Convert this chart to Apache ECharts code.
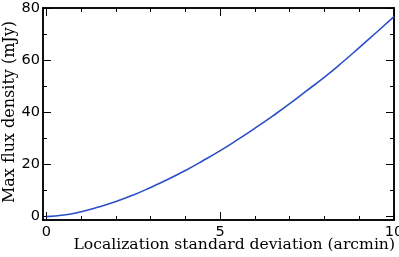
<!DOCTYPE html>
<html><head><meta charset="utf-8">
<script src="https://cdn.jsdelivr.net/npm/echarts@6/dist/echarts.min.js"></script>
<style>html,body{margin:0;padding:0;background:#fff}#c{width:399px;height:257px}</style>
</head><body><div id="c"></div>
<script>
const xValues = [0,0.5,1,1.5,2,2.5,3,3.5,4,4.5,5,5.5,6,6.5,7,7.5,8,8.5,9,9.5,10];
const yValues = [0,0.6,1.9,3.7,5.8,8.3,11.2,14.3,17.7,21.4,25.3,29.5,33.9,38.5,43.3,48.4,53.5,59.0,64.8,70.7,76.7];
const xMajorTicks = [0,5,10];
const xMinorTicks = [1,2,3,4,6,7,8,9];
const yMajorTicks = [0,20,40,60,80];
const yMinorTicks = [10,30,50,70];
const xTitle = 'Localization standard deviation (arcmin)';
const yTitle = 'Max flux density (mJy)';

const X_MIN = -0.1, X_MAX = 10, Y_MIN = -1.3, Y_MAX = 80;
const black = '#000';
const labelFont = {color: black, fontFamily: 'DejaVu Sans', fontSize: 14.5};

function xAx(pos, major, labels) {
  return {
    type: 'value', min: X_MIN, max: X_MAX, position: pos,
    axisLine: {show: true, onZero: false, lineStyle: {color: black, width: 1.5}},
    axisTick: {show: true, inside: true, length: major ? 8 : 4,
      customValues: major ? xMajorTicks : xMinorTicks, lineStyle: {color: black, width: 1}},
    axisLabel: labels ? Object.assign({show: true, margin: 5, customValues: xMajorTicks}, labelFont) : {show: false},
    splitLine: {show: false}
  };
}
function yAx(pos, major, labels) {
  return {
    type: 'value', min: Y_MIN, max: Y_MAX, position: pos,
    axisLine: {show: true, onZero: false, lineStyle: {color: black, width: 1.5}},
    axisTick: {show: true, inside: true, length: major ? 8 : 4,
      customValues: major ? yMajorTicks : yMinorTicks, lineStyle: {color: black, width: 1}},
    axisLabel: labels ? Object.assign({show: true, margin: 3, customValues: yMajorTicks}, labelFont) : {show: false},
    splitLine: {show: false}
  };
}

const chart = echarts.init(document.getElementById('c'), null, {renderer: 'canvas'});
chart.setOption({
  animation: false,
  backgroundColor: '#fff',
  grid: {left: 43, right: 5, top: 8, bottom: 37, containLabel: false, outerBoundsMode: 'none'},
  xAxis: [xAx('bottom', true, true), xAx('bottom', false, false), xAx('top', true, false), xAx('top', false, false)],
  yAxis: [yAx('left', true, true), yAx('left', false, false), yAx('right', true, false), yAx('right', false, false)],
  series: [{
    type: 'line', xAxisIndex: 0, yAxisIndex: 0,
    data: xValues.map((x, i) => [x, yValues[i]]),
    smooth: true, showSymbol: false,
    lineStyle: {color: '#2c4ec8', width: 1.6}
  }],
  graphic: [
    {type: 'text', right: 4, top: 237,
     style: {text: xTitle, fill: black, font: '15.6px "DejaVu Serif"'}},
    {type: 'text', x: 1.5, y: 112, rotation: Math.PI / 2,
     style: {text: yTitle, fill: black, font: '16px "DejaVu Serif"', textAlign: 'center', textVerticalAlign: 'top'}}
  ]
});
</script></body></html>
